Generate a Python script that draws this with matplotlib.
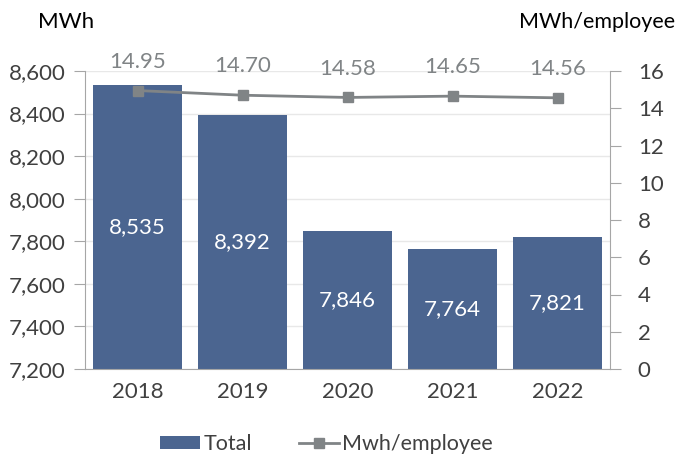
import matplotlib.pyplot as plt
import numpy as np

plt.rcParams['font.family'] = ['Lato', 'DejaVu Sans']

years = ['2018', '2019', '2020', '2021', '2022']
total = [8535, 8392, 7846, 7764, 7821]
per_employee = [14.95, 14.70, 14.58, 14.65, 14.56]

bar_color = '#4b6590'
line_color = '#808486'
text_color = '#404040'
axis_color = '#a6a6a6'

fig = plt.figure(figsize=(6.78, 4.59), dpi=100)
ax = fig.add_axes([85/678, 1 - 369/459, 525/678, 298/459])
x = np.arange(len(years))

bars = ax.bar(x, [t - 7200 for t in total], bottom=7200, width=0.84,
              color=bar_color, label='Total', zorder=2)
ax.set_ylim(7200, 8600)
ax.set_xlim(-0.5, len(years) - 0.5)
ax.set_yticks(np.arange(7200, 8601, 200))
ax.set_yticklabels([f'{v:,}' for v in range(7200, 8601, 200)])
ax.set_xticks(x)
ax.set_xticklabels(years)
ax.grid(axis='y', color='#e8e8e8', linewidth=1, zorder=0)
ax.set_axisbelow(True)
for s in ['top', 'right']:
    ax.spines[s].set_visible(False)
ax.spines['left'].set_color(axis_color)
ax.spines['bottom'].set_color(axis_color)
ax.tick_params(axis='y', colors=text_color, labelsize=16, length=8, color=axis_color, pad=6)
ax.tick_params(axis='x', colors=text_color, labelsize=16, length=0, pad=9)

# labels inside the bars
for xi, t in zip(x, total):
    ax.text(xi, (t + 7200) / 2, f'{t:,}', ha='center', va='center',
            color='white', fontsize=16, zorder=3)

ax2 = ax.twinx()
ax2.plot(x, per_employee, color=line_color, linewidth=2, marker='s',
         markersize=7, label='Mwh/employee', zorder=4)
ax2.set_ylim(0, 16)
ax2.set_yticks(range(0, 17, 2))
for s in ['top', 'left', 'bottom']:
    ax2.spines[s].set_visible(False)
ax2.spines['right'].set_color(axis_color)
ax2.tick_params(axis='y', colors=text_color, labelsize=16, length=8,
                direction='out', color=axis_color, pad=12)
for xi, v in zip(x, per_employee):
    ax2.text(xi, v + 1.55, f'{v:.2f}', ha='center', va='center',
             color=line_color, fontsize=16)

fig.text(38/678, 1 - 22/459, 'MWh', fontsize=16, color='black', va='center')
fig.text(675/678, 1 - 22/459, 'MWh/employee', fontsize=15.5, color='black',
         va='center', ha='right')

h1, l1 = ax.get_legend_handles_labels()
h2, l2 = ax2.get_legend_handles_labels()
fig.legend(h1 + h2, l1 + l2, loc='center', bbox_to_anchor=(0.482, 1 - 444/459),
           ncol=2, frameon=False, fontsize=15.5, handlelength=1.85, handleheight=0.6,
           columnspacing=2.2, handletextpad=0.15, labelcolor=text_color)

fig.savefig('out.png', dpi=100)
